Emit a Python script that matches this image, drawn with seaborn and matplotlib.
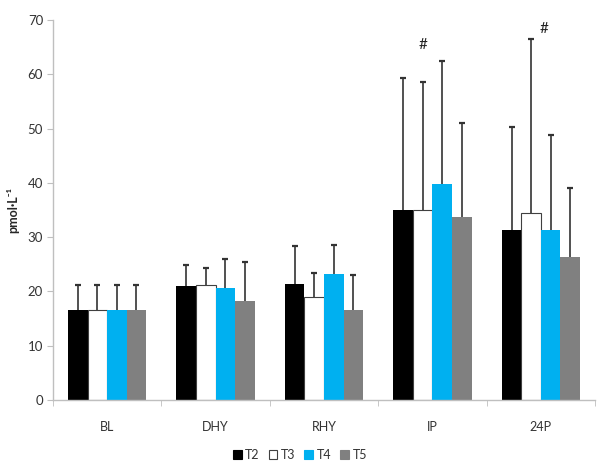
import numpy as np
import pandas as pd
import matplotlib
matplotlib.use("Agg")
import matplotlib.pyplot as plt
import seaborn as sns

# values
timepoints = ["BL", "DHY", "RHY", "IP", "24P"]
series = ["T2", "T3", "T4", "T5"]

t2_mean = [16.5, 21.0, 21.4, 35.0, 31.3]
t3_mean = [16.5, 21.1, 19.0, 35.0, 34.4]
t4_mean = [16.5, 20.7, 23.3, 39.9, 31.3]
t5_mean = [16.5, 18.2, 16.6, 33.8, 26.3]

# upper error bar tips
t2_top = [21.1, 24.8, 28.3, 59.4, 50.3]
t3_top = [21.1, 24.4, 23.4, 58.6, 66.5]
t4_top = [21.1, 26.0, 28.5, 62.4, 48.9]
t5_top = [21.1, 25.4, 23.1, 51.0, 39.0]

colors = ["#000000", "#FFFFFF", "#00B0F0", "#808080"]

# significance marks (#) above IP and 24P
mark_x = [2.91, 4.03]
mark_y = [65.4, 68.3]

means = [t2_mean, t3_mean, t4_mean, t5_mean]
tops = [t2_top, t3_top, t4_top, t5_top]

rows = []
for s, m in zip(series, means):
    for t, v in zip(timepoints, m):
        rows.append({"Time": t, "Series": s, "Value": v})
df = pd.DataFrame(rows)

sns.set_style("white")
plt.rcParams["font.family"] = ["Lato", "DejaVu Sans"]

fig = plt.figure(figsize=(6, 4.7), dpi=100)
ax = fig.add_axes([0.088, 0.149, 0.904, 0.808])

sns.barplot(data=df, x="Time", y="Value", hue="Series", order=timepoints,
            hue_order=series, palette=colors, width=0.72, errorbar=None,
            saturation=1, legend=False, ax=ax)

axis_col = "#BFBFBF"
err_col = "#333333"
for cont, top, col in zip(ax.containers, tops, colors):
    for bar, t in zip(cont, top):
        if col == "#FFFFFF":
            bar.set_edgecolor("#404040")
            bar.set_linewidth(0.8)
        else:
            bar.set_edgecolor(col)
            bar.set_linewidth(0)
        xc = bar.get_x() + bar.get_width() / 2
        h = bar.get_height()
        # only the upper half of the error bar, with a cap at the tip
        ax.vlines(xc, h, t, color=err_col, linewidth=1.2, zorder=1)
        ax.plot(xc, t, marker="_", markersize=5, mew=1.6, color=err_col, zorder=1)

for x, y in zip(mark_x, mark_y):
    ax.text(x, y, "#", ha="center", va="center", fontsize=11, color="#222222")

ax.set_ylim(0, 70)
ax.set_xlim(-0.5, 4.5)
ax.set_yticks(range(0, 71, 10))
ax.set_xlabel("")
ax.set_ylabel("pmol·L⁻¹", fontsize=9, fontweight="bold")
ax.yaxis.set_label_coords(-0.062, 0.5)

for side in ["top", "right"]:
    ax.spines[side].set_visible(False)
for side in ["left", "bottom"]:
    ax.spines[side].set_color(axis_col)
    ax.spines[side].set_linewidth(1)

ax.tick_params(axis="y", which="major", left=True, length=4, color=axis_col,
               labelsize=9.5, labelcolor="#333333", pad=3)
ax.tick_params(axis="x", which="major", bottom=False, labelsize=9,
               labelcolor="#333333", pad=12)
ax.set_xticks(np.arange(-0.5, 5, 1), minor=True)
ax.tick_params(axis="x", which="minor", bottom=True, length=4, color=axis_col)

handles = [plt.Rectangle((0, 0), 1, 1, facecolor=c,
                         edgecolor="#404040" if c == "#FFFFFF" else c, linewidth=0.8)
           for c in colors]
fig.legend(handles, series, loc="center", bbox_to_anchor=(0.5, 0.032), ncol=4,
           frameon=False, fontsize=9, handlelength=0.7, handleheight=0.7,
           handletextpad=0.3, columnspacing=0.7, labelcolor="#333333")

fig.savefig("out.png", dpi=100)
